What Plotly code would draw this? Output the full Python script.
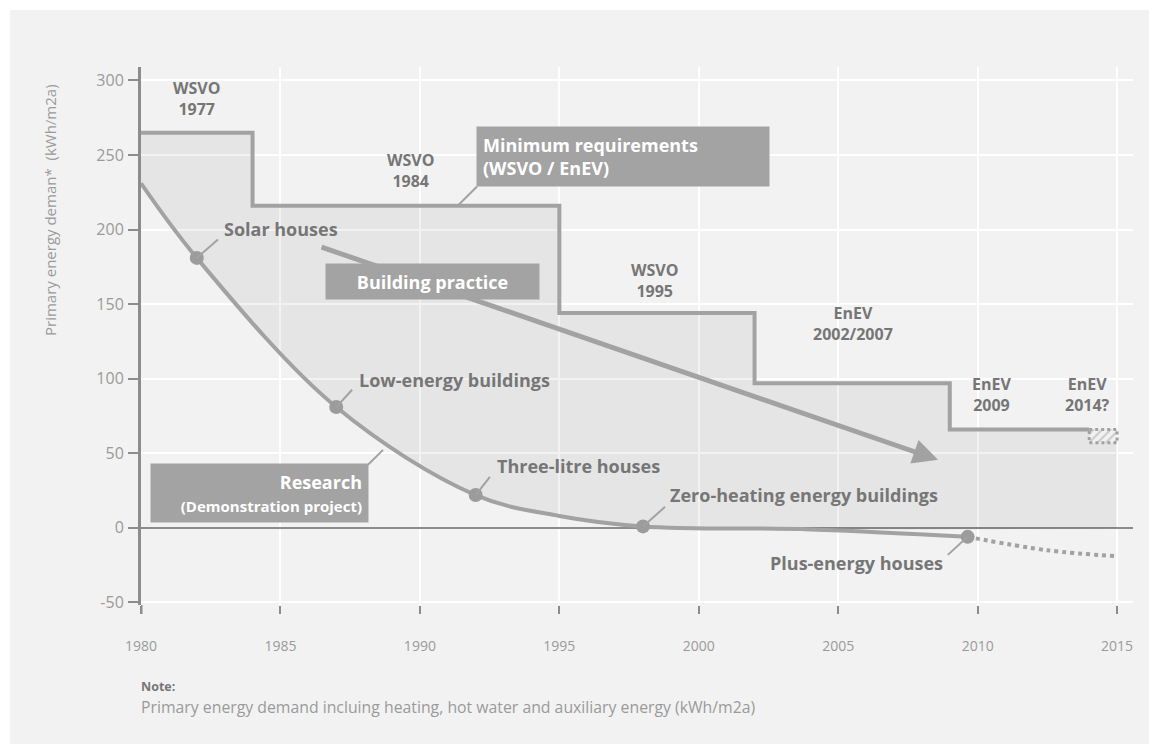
import plotly.graph_objects as go

# ---------------- data ----------------
reg_years = [1980, 1984, 1995, 2002, 2009, 2014]
reg_values = [265, 216, 144, 97, 66, 66]
fill_years = [1980, 1984, 1995, 2002, 2009, 2015]
fill_values = [265, 216, 144, 97, 66, 66]
future_years = [2014, 2015, 2015, 2014, 2014]
future_values = [66, 66, 57, 57, 66]

research_years = [1980, 1982, 1987, 1992, 1995, 1998, 2004, 2009.64]
research_values = [231, 181, 81, 22, 8, 1, -1, -6]
base_years = [1980, 1982, 1987, 1992, 1995, 1998, 2015]
base_values = [231, 181, 81, 22, 8, 1, 0]
outlook_years = [2009.64, 2012.5, 2015]
outlook_values = [-6, -15, -19]

milestone_years = [1982, 1987, 1992, 1998, 2009.64]
milestone_values = [181, 81, 22, 1, -6]
milestone_labels = ["Solar houses", "Low-energy buildings", "Three-litre houses",
                    "Zero-heating energy buildings", "Plus-energy houses"]

practice_start = (1986.42, 188.6)
practice_end = (2008.58, 45.6)

reg_labels = ["WSVO<br>1977", "WSVO<br>1984", "WSVO<br>1995", "EnEV<br>2002/2007",
              "EnEV<br>2009", "EnEV<br>2014?"]

x_ticks = [1980, 1985, 1990, 1995, 2000, 2005, 2010, 2015]
y_ticks = [-50, 0, 50, 100, 150, 200, 250, 300]
y_tick_text = ["-50", "0", "50", "100", "150", "200", "250", "300"]

# ---------------- styles ----------------
BG = "#f2f2f2"
LINE = "#a2a2a2"
AXIS = "#8c8c8c"
TXT = "#767676"
TICK = "#9a9a9a"
BOX = "#a3a3a3"
FONT = "Open Sans"

fig = go.Figure()

# shaded corridor between research curve and minimum requirements
fig.add_trace(go.Scatter(x=base_years, y=base_values, mode="lines",
                         line=dict(width=0, shape="spline", color=LINE),
                         hoverinfo="skip", showlegend=False))
fig.add_trace(go.Scatter(x=fill_years, y=fill_values, mode="lines",
                         line=dict(width=0, shape="hv", color=LINE),
                         fill="tonexty", fillcolor="rgba(0,0,0,0.05)",
                         hoverinfo="skip", showlegend=False))
# minimum requirements step line
fig.add_trace(go.Scatter(x=reg_years, y=reg_values, mode="lines",
                         line=dict(width=4, shape="hv", color=LINE),
                         hoverinfo="skip", showlegend=False))
# future (hatched)
fig.add_trace(go.Scatter(x=future_years, y=future_values, mode="lines",
                         line=dict(width=3, dash="dot", color=LINE),
                         fill="toself", fillcolor="rgba(0,0,0,0)",
                         fillpattern=dict(shape="/", fgcolor=LINE, bgcolor=BG, size=6, solidity=0.35),
                         hoverinfo="skip", showlegend=False))
# research curve
fig.add_trace(go.Scatter(x=research_years, y=research_values, mode="lines",
                         line=dict(width=4, shape="spline", color=LINE),
                         hoverinfo="skip", showlegend=False))
fig.add_trace(go.Scatter(x=outlook_years, y=outlook_values, mode="lines",
                         line=dict(width=4, shape="spline", dash="dot", color=LINE),
                         hoverinfo="skip", showlegend=False))
fig.add_trace(go.Scatter(x=milestone_years, y=milestone_values, mode="markers",
                         marker=dict(size=14, color="#9c9c9c"),
                         hoverinfo="skip", showlegend=False))

annotations = []
shapes = []

# white frame strips (top and left) outside the grey panel
shapes.append(dict(type="rect", xref="paper", yref="paper", x0=-0.2, x1=1.1,
                   y0=(605 - 10) / 538, y1=1.2, fillcolor="white", line=dict(width=0), layer="below"))
shapes.append(dict(type="rect", xref="paper", yref="paper", x0=-0.2, x1=(10 - 141) / 992,
                   y0=-0.3, y1=1.2, fillcolor="white", line=dict(width=0), layer="below"))
# y axis line extension into tick zone
shapes.append(dict(type="line", xref="x", yref="paper", x0=1980, x1=1980,
                   y0=-9 / 538, y1=0, line=dict(color=AXIS, width=3)))

# milestone labels + leaders
label_pos = [(1982.9, 200.7, "left"), (1987.74, 99.3, "left"), (1992.69, 41.6, "left"),
             (1998.9, 22.1, "left"), (2008.83, -23.5, "right")]
leader_ends = [(1982.76, 193.3), (1987.57, 92.6), (1992.51, 34.2), (1998.79, 14.1), (2008.93, -18.1)]
for (lx, ly, anc), txt in zip(label_pos, milestone_labels):
    annotations.append(dict(x=lx, y=ly, text=f"<b>{txt}</b>", showarrow=False, xanchor=anc,
                            yanchor="middle", font=dict(family=FONT, size=18, color=TXT)))
for (mx, my), (ex, ey) in zip(zip(milestone_years, milestone_values), leader_ends):
    shapes.append(dict(type="line", x0=mx, y0=my, x1=ex, y1=ey, line=dict(color=LINE, width=2)))

# box leaders
shapes.append(dict(type="line", x0=1992.05, y0=228.9, x1=1991.40, y1=216.8, line=dict(color=LINE, width=2)))
shapes.append(dict(type="line", x0=1988.14, y0=42.3, x1=1988.68, y1=52.3, line=dict(color=LINE, width=2)))

# regulation labels
reg_label_pos = [(1982.0, 288), (1989.65, 239.6), (1998.43, 165.8), (2005.53, 136.9),
                 (2010.51, 89.3), (2013.95, 89.3)]
for (rx, ry), txt in zip(reg_label_pos, reg_labels):
    annotations.append(dict(x=rx, y=ry, text=f"<b>{txt}</b>", showarrow=False, xanchor="center",
                            yanchor="middle", align="center",
                            font=dict(family=FONT, size=16, color=TXT)))

# building practice arrow
annotations.append(dict(x=practice_end[0], y=practice_end[1], ax=practice_start[0], ay=practice_start[1],
                        axref="x", ayref="y", xref="x", yref="y", text="", showarrow=True,
                        arrowhead=2, arrowsize=1.0, arrowwidth=5, arrowcolor=LINE, standoff=0))

# boxes
annotations.append(dict(x=1997.29, y=248.7, xanchor="center", yanchor="middle",
                        text="<b>Minimum requirements<br>(WSVO / EnEV)</b>", align="left",
                        showarrow=False, bgcolor=BOX, borderpad=6, width=280, height=47,
                        font=dict(family=FONT, size=18, color="white")))
annotations.append(dict(x=1990.45, y=165.4, xanchor="center", yanchor="middle",
                        text="<b>Building practice</b>", align="center",
                        showarrow=False, bgcolor=BOX, borderpad=4, width=205, height=27,
                        font=dict(family=FONT, size=18, color="white")))
annotations.append(dict(x=1984.25, y=23.5, xanchor="center", yanchor="middle",
                        text="<b>Research</b><br><b><span style='font-size:15px'>(Demonstration project)</span></b>",
                        align="right", showarrow=False, bgcolor=BOX, borderpad=6, width=205, height=46,
                        font=dict(family=FONT, size=18, color="white")))

# y axis title
annotations.append(dict(xref="paper", yref="paper", x=(50 - 141) / 992, y=(605 - 210) / 538,
                        text="Primary energy deman*  (kWh/m2a)", textangle=-90, showarrow=False,
                        xanchor="center", yanchor="middle", font=dict(family=FONT, size=15, color=TICK)))
# note
annotations.append(dict(xref="paper", yref="paper", x=(139 - 141) / 992, y=(605 - 686) / 538,
                        text="<b>Note:</b>", showarrow=False, xanchor="left", yanchor="middle",
                        font=dict(family=FONT, size=12.5, color=TXT)))
annotations.append(dict(xref="paper", yref="paper", x=(139 - 141) / 992, y=(605 - 707) / 538,
                        text="Primary energy demand incluing heating, hot water and auxiliary energy (kWh/m2a)",
                        showarrow=False, xanchor="left", yanchor="middle",
                        font=dict(family=FONT, size=15.8, color=TICK)))

fig.update_layout(
    width=1157, height=744,
    margin=dict(l=133, r=32, t=59, b=147),
    paper_bgcolor=BG, plot_bgcolor=BG,
    annotations=annotations, shapes=shapes,
    font=dict(family=FONT, color=TICK),
    showlegend=False,
)
fig.update_xaxes(range=[1980, 2015.57], tickvals=x_ticks, ticktext=[str(t) for t in x_ticks],
                 showgrid=True, gridcolor="white", gridwidth=2, zeroline=False, showline=False,
                 ticks="outside", ticklen=8, tickwidth=2, tickcolor=AXIS, ticklabelstandoff=20,
                 tickfont=dict(family=FONT, size=14, color=TICK))
fig.update_yaxes(range=[-51.7, 309], tickvals=y_ticks, ticktext=y_tick_text,
                 showgrid=True, gridcolor="white", gridwidth=2,
                 zeroline=True, zerolinecolor=AXIS, zerolinewidth=2,
                 showline=True, linecolor=AXIS, linewidth=3,
                 ticks="outside", ticklen=10, tickwidth=2, tickcolor=AXIS, ticklabelstandoff=1,
                 tickfont=dict(family=FONT, size=16, color=TICK))

fig.write_html("out.html")
